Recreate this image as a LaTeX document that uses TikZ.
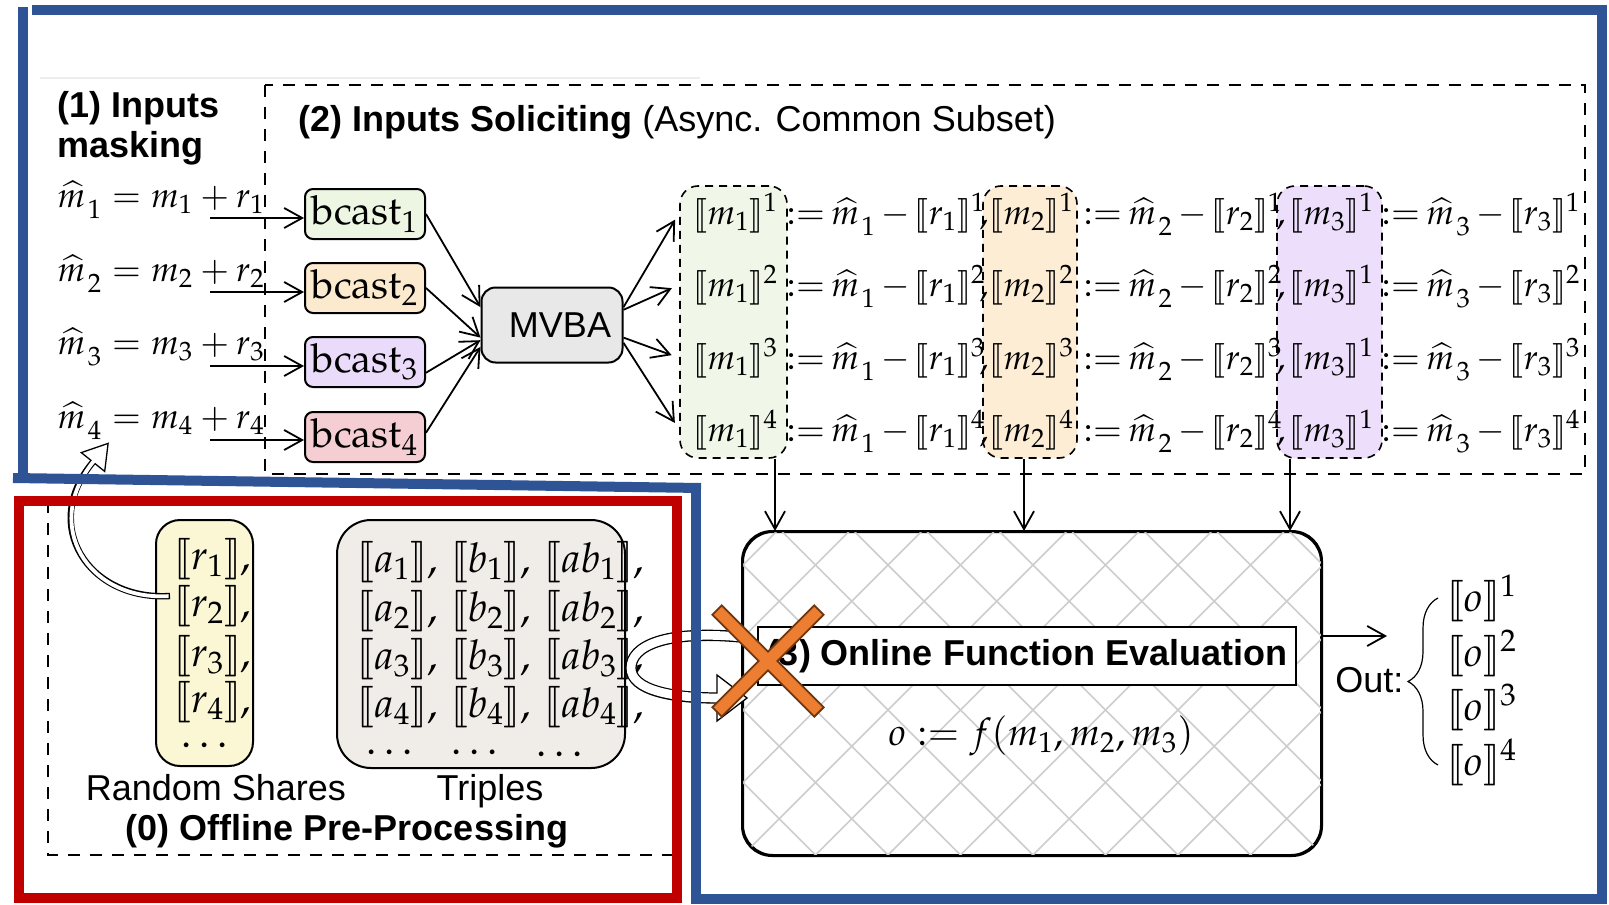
\documentclass[tikz,border=0pt]{standalone}
\IfFileExists{mathpazo.sty}{\usepackage{mathpazo}}{}
\IfFileExists{stmaryrd.sty}{\usepackage{stmaryrd}}{\providecommand\llbracket{[\![}\providecommand\rrbracket{]\!]}}
\usepackage[no-math]{fontspec}
\setsansfont{Liberation Sans}
\usetikzlibrary{arrows.meta,decorations.pathreplacing}

\definecolor{frameblue}{RGB}{47,84,150}
\definecolor{framered}{RGB}{192,0,0}
\definecolor{crossfill}{RGB}{237,125,49}
\definecolor{crossedge}{RGB}{110,55,15}
\definecolor{bgreen}{RGB}{236,246,226}
\definecolor{borange}{RGB}{252,234,206}
\definecolor{bpurple}{RGB}{234,219,250}
\definecolor{bpink}{RGB}{244,206,210}
\definecolor{cgreen}{RGB}{240,247,232}
\definecolor{corange}{RGB}{253,237,212}
\definecolor{cpurple}{RGB}{237,222,252}
\definecolor{shareyellow}{RGB}{251,246,212}
\definecolor{triplegray}{RGB}{240,236,232}
\definecolor{hatchgray}{RGB}{205,205,205}

\newcommand\sh[1]{\llbracket #1\rrbracket}
% masked input: hat over m, index set low and a little apart
\newcommand\mh[1]{\widehat{m}_{\lower3pt\hbox{\kern1.2pt$\scriptstyle#1$}}}
% tighter spacing for the share definitions
\newcommand\tightsp{\thickmuskip=3mu\relax\medmuskip=2.5mu\relax}

\tikzset{
  mth/.style={inner sep=0pt, font=\fontsize{17.5}{21}\selectfont},
  mthbig/.style={inner sep=0pt, font=\fontsize{20.5}{24}\selectfont},
  sanstxt/.style={inner sep=0pt, font=\sffamily\fontsize{18}{21}\selectfont},
  sansbold/.style={inner sep=0pt, font=\sffamily\bfseries\fontsize{18}{21}\selectfont},
  bcastbox/.style={draw, line width=1pt, rounded corners=4pt, minimum width=60pt,
    minimum height=25pt, inner sep=0pt, font=\fontsize{20}{24}\selectfont},
  colbox/.style={draw, dash pattern=on 4pt off 3pt, line width=0.8pt,
    rounded corners=9pt, minimum height=136pt, inner sep=0pt},
  arr/.style={line width=0.9pt, -{Straight Barb[length=9pt,width=10pt]}},
  region/.style={dash pattern=on 6pt off 5pt, line width=0.8pt},
  annot/.style={line width=5pt},
  hatchline/.style={hatchgray, line width=0.75pt},
  fathead/.style={fill=white, line width=0.65pt, line join=miter},
}

\begin{document}
\begin{tikzpicture}[x=0.5pt, y=-0.5pt]
\useasboundingbox (0,0) rectangle (1609,904);

% faint rule above the first heading
\draw[black!7, line width=1pt] (40,78) -- (700,78);

% ---------- dashed regions ----------
\draw[region] (265,85) rectangle (1585,474);
\draw[region] (48,501) rectangle (677,855);

% ---------- (1) inputs masking ----------
\node[sansbold, anchor=base west] (h1a) at (57,118) {(1) Inputs};
\node[sansbold, anchor=base west] (h1b) at (57,157) {masking};
\node[sanstxt, anchor=base west] (h2) at (298,131) {\textbf{(2) Inputs Soliciting} (Async. Common Subset)};

\foreach \i/\y in {1/207,2/281,3/354,4/428}
  \node[mth, anchor=base west] (eq\i) at (57,\y) {$\mh{\i} = m_\i + r_\i$};

% ---------- broadcasts ----------
\node[bcastbox, fill=bgreen]  (b1) at (365,214) {$\mathrm{bcast}_1$};
\node[bcastbox, fill=borange] (b2) at (365,288) {$\mathrm{bcast}_2$};
\node[bcastbox, fill=bpurple] (b3) at (365,362) {$\mathrm{bcast}_3$};
\node[bcastbox, fill=bpink]   (b4) at (365,437) {$\mathrm{bcast}_4$};

\coordinate (s1) at (210,218);
\coordinate (s2) at (210,292);
\coordinate (s3) at (210,366);
\coordinate (s4) at (210,440);
\foreach \i in {1,...,4}
  \draw[arr] (s\i) -- (s\i -| b\i.west);

% ---------- MVBA ----------
\node[draw, line width=1pt, rounded corners=7pt, fill=black!9, minimum width=70.5pt,
  minimum height=37.5pt, sanstxt] (mvba) at (552,325) {\hspace{8pt}MVBA};

\draw[arr] (b1.east) -- (mvba.166);
\draw[arr] (b2.east) -- (mvba.190);
\draw[arr] (b3.-10) -- (mvba.192);
\draw[arr] (b4.4) -- (mvba.197);

% ---------- share columns ----------
\node[colbox, fill=cgreen,  minimum width=53.5pt] (col1) at (733.5,322) {};
\node[colbox, fill=corange, minimum width=47pt]   (col2) at (1030,322) {};
\node[colbox, fill=cpurple, minimum width=52.5pt] (col3) at (1329.5,322) {};

\foreach \k/\yb in {1/224,2/296,3/369,4/441} {
  \node[mth, anchor=base west] (c1r\k) at (693,\yb)  {$\sh{m_1}^{\k}$};
  \node[mth, anchor=base west] (d1r\k) at (786,\yb)  {$\tightsp\mathrel{:=} \mh{1} - \sh{r_1}^{\k}\!,$};
  \node[mth, anchor=base west] (c2r\k) at (989,\yb)  {$\sh{m_2}^{\k}$};
  \node[mth, anchor=base west] (d2r\k) at (1083,\yb) {$\tightsp\mathrel{:=} \mh{2} - \sh{r_2}^{\k}\!,$};
  \node[mth, anchor=base west] (c3r\k) at (1289,\yb) {$\sh{m_3}^{1}$};
  \node[mth, anchor=base west] (d3r\k) at (1381,\yb) {$\tightsp\mathrel{:=} \mh{3} - \sh{r_3}^{\k}$};
}

\draw[arr, shorten >=4pt] (mvba.14)  -- (col1.west |- c1r1.west);
\draw[arr, shorten >=4pt] (mvba.12)  -- (col1.west |- c1r2.west);
\draw[arr, shorten >=4pt] (mvba.-10) -- (col1.west |- c1r3.west);
\draw[arr, shorten >=4pt] (mvba.-14) -- (col1.west |- c1r4.west);

% ---------- online evaluation ----------
\node[draw, line width=1pt, rounded corners=15pt, fill=white, minimum width=289pt,
  minimum height=161.5pt] (online) at (1032,693.5) {};
\begin{scope}
  \clip[rounded corners=15pt] (online.south west) rectangle (online.north east);
  \foreach \k in {-8,...,5}
    \draw[hatchline] ({468+72.5*\k+500},500) -- ++(400,400);
  \foreach \k in {-5,...,8}
    \draw[hatchline] ({1598+72.5*\k-500},500) -- ++(-400,400);
\end{scope}
\draw[line width=1pt, rounded corners=15pt] (online.south west) rectangle (online.north east);

\node[draw, line width=1pt, fill=white, minimum width=269pt, minimum height=29pt,
  sansbold] (lab) at (1027,656) {(3) Online Function Evaluation};
\node[inner sep=0pt, font=\fontsize{19}{23}\selectfont] (fx) at (1041,736) {$o := f(m_1, m_2, m_3)$};

\coordinate (v1) at (775,0);
\coordinate (v2) at (1024,0);
\coordinate (v3) at (1290,0);
\draw[arr] (col1.south -| v1) -- (online.north -| v1);
\draw[arr] (col2.south -| v2) -- (online.north -| v2);
\draw[arr] (col3.south -| v3) -- (online.north -| v3);

% ---------- outputs ----------
\coordinate (yo) at (0,636);
\coordinate (oend) at (1387,636);
\draw[arr] (online.east |- yo) -- (oend);
\node[sanstxt, anchor=base west] (out) at (1335,692) {Out:};
\draw[line width=0.6pt, decorate, decoration={brace, amplitude=15pt}] (1438,765) -- (1438,598);
\foreach \k/\yb in {1/611,2/666,3/720,4/775}
  \node[mthbig, anchor=base west] (o\k) at (1447,\yb) {$\sh{o}^{\k}$};

% ---------- (0) offline pre-processing ----------
\node[draw, line width=1pt, rounded corners=12pt, fill=shareyellow, minimum width=48.5pt,
  minimum height=123pt, inner sep=0pt] (rs) at (204.5,643) {};
\foreach \k/\yb in {1/569,2/616,3/666,4/712}
  \node[mthbig, anchor=base west] (r\k) at (174,\yb) {$\sh{r_\k},$};
\node[mthbig] (rdots) at (205,745) {$\dots$};

\node[draw, line width=1pt, rounded corners=17pt, fill=triplegray, minimum width=144pt,
  minimum height=124pt, inner sep=0pt] (tr) at (481,644) {};
\foreach \k/\yb in {1/572,2/621,3/669,4/717}
  \node[mthbig, anchor=base west] (t\k) at (357,\yb) {$\sh{a_\k},\, \sh{b_\k},\, \sh{ab_\k},$};
\node[mthbig] (td1) at (390,752) {$\dots$};
\node[mthbig] (td2) at (475,752) {$\dots$};
\node[mthbig] (td3) at (560,754) {$\dots$};

\node[sanstxt] (rsl) at (216,788) {Random Shares};
\node[sanstxt] (trl) at (490,791) {Triples};
\node[sansbold] (offl) at (347,831) {(0) Offline Pre-Processing};

% ---------- hollow arrows ----------
% triples feeding the online phase (loop)
\coordinate (la) at (741,637);
\coordinate (lb) at (631,668);
\coordinate (lc) at (717,698);
\draw[line width=5.65pt] (la) .. controls (665,630) and (631,646) .. (lb) .. controls (631,690) and (672,698) .. (lc);
\draw[fathead] (717,675) -- (747,698) -- (717,721) -- cycle;
\draw[white, line width=4.35pt, shorten >=-1.5pt] (la) .. controls (665,630) and (631,646) .. (lb) .. controls (631,690) and (672,698) .. (lc);

% random share used to mask an input
\coordinate (ta) at (170,596);
\coordinate (ha) at (93,462);
\draw[line width=3.2pt] (ta) .. controls (88,601) and (40,525) .. (ha);
\draw[fathead] (81.3,452.6) -- (108.1,443.4) -- (104.7,471.4) -- cycle;
\draw[white, line width=1.9pt, shorten >=-1.5pt, shorten <=0.7pt] (ta) .. controls (88,601) and (40,525) .. (ha);

% ---------- crossed-out mark ----------
\begin{scope}[shift={(768,661)}]
  \fill[crossedge, rotate=45]  (-73,-7.5) rectangle (73,7.5);
  \fill[crossedge, rotate=-45] (-73,-7.5) rectangle (73,7.5);
  \fill[crossfill, rotate=45]  (-71,-5.5) rectangle (71,5.5);
  \fill[crossfill, rotate=-45] (-71,-5.5) rectangle (71,5.5);
\end{scope}

% ---------- highlight frames ----------
\draw[annot, framered] (19,501) rectangle (677,898);
\draw[annot, frameblue] (23,7) -- (23,480);
\draw[annot, frameblue] (32,10) -- (1607,10);
\draw[annot, frameblue] (1602,5) -- (1602,904);
\draw[annot, frameblue] (13,478) -- (701,488);
\draw[annot, frameblue] (696,483) -- (696,904);
\draw[annot, frameblue] (691,899) -- (1607,899);
\end{tikzpicture}
\end{document}
